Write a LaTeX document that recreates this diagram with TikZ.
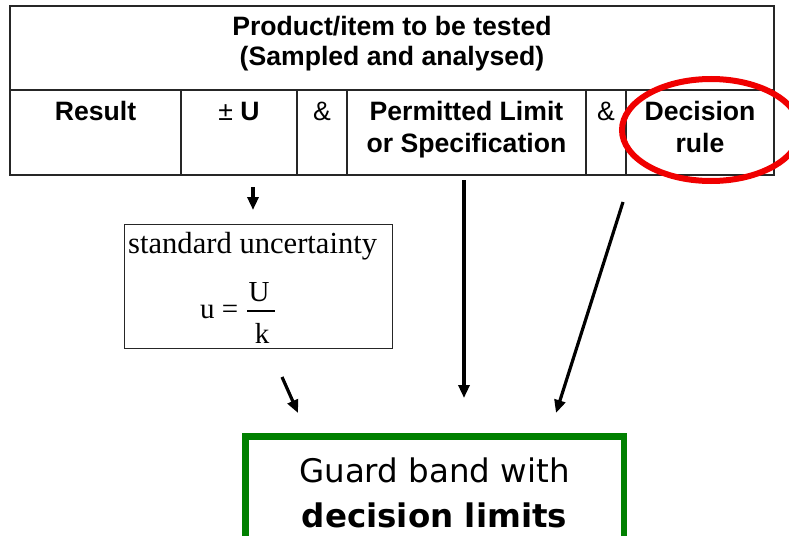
\documentclass[tikz,border=0pt]{standalone}
\usepackage{fontspec}
\setmainfont{Liberation Sans}
\newfontfamily\serifface{Liberation Serif}
\newfontfamily\guardface{DejaVu Sans}
\usetikzlibrary{arrows.meta}
\definecolor{guardgreen}{RGB}{0,128,0}
\definecolor{ringred}{RGB}{240,0,0}

\begin{document}
\begin{tikzpicture}[x=1pt,y=-1pt,
  grid/.style={draw=black!85, line width=1.3pt},
  cell/.style={anchor=base, inner sep=0pt, align=center,
    font=\fontsize{26.6}{32}\selectfont\bfseries},
  amp/.style={anchor=base, inner sep=0pt, font=\fontsize{26.6}{32}\selectfont},
  serif/.style={anchor=base, inner sep=0pt, font=\serifface\fontsize{30.6}{30}\selectfont},
  flow/.style={line width=3.2pt, -{Triangle[length=13pt,width=11pt]}},
]
\clip (0,0) rectangle (789,535);
\fill[white] (0,0) rectangle (789,535);

% --- table: header row and five cells below
\draw[grid] (10,6) rectangle (774,175);
\draw[grid] (10,90) -- (774,90);
\foreach \x in {181,297,347,586,626} \draw[grid] (\x,90) -- (\x,175);

% two-line cells are anchored on the baseline of their last line
\node[cell, font=\fontsize{26.6}{30}\selectfont\bfseries] (item) at (392,66)
  {Product/item to be tested\\(Sampled and analysed)};
\node[cell] (result) at (95.5,120) {Result};
\node[cell] (unc) at (239,120) {{\mdseries ±} U};
\node[amp] (and1) at (322,120) {\&};
\node[cell] (limit) at (466.5,152) {Permitted Limit\\or Specification};
\node[amp] (and2) at (606,120) {\&};
\node[cell] (rule) at (700,152) {Decision\\rule};

% --- red ring around the decision rule
\draw[ringred, line width=6pt] (711,130) ellipse [x radius=89, y radius=51];

% --- standard uncertainty box
\node[draw=black!85, line width=1.1pt, anchor=north west, minimum width=268pt,
  minimum height=124pt, inner sep=0pt] (std) at (124,224) {};
\node[serif, anchor=base west] (stdlabel) at (128,253) {standard uncertainty};
\node[serif, anchor=base west, font=\serifface\fontsize{29}{29}\selectfont] (ueq) at (200,318) {u =};
\node[serif, font=\serifface\fontsize{29}{29}\selectfont] (num) at (259,301) {U};
\node[serif, font=\serifface\fontsize{29}{29}\selectfont] (den) at (262,343) {k};
\draw[line width=1.3pt] (247,311) coordinate (barl) -- (275,311) coordinate (barr);

% --- guard band box
\draw[guardgreen, line width=6.5pt] (245.5,545) -- (245.5,436.5) -- (624,436.5) -- (624,545);
\node[anchor=base, inner sep=0pt, font=\guardface\fontsize{32.5}{32.5}\selectfont] (guard) at (434.5,482)
  {Guard band with};
\node[anchor=base, inner sep=0pt, font=\guardface\fontsize{32.5}{32.5}\selectfont\bfseries] (limits) at (434.5,527)
  {decision limits};

% --- connectors
\coordinate (u0) at (253,187);
\coordinate (u1) at (253,210);
\coordinate (s0) at (282,377);
\coordinate (s1) at (298,413);
\coordinate (p0) at (464,180);
\coordinate (p1) at (464,398);
\coordinate (r0) at (623,202);
\coordinate (r1) at (556,413);
\draw[flow] (u0) -- (u1);
\draw[flow] (s0) -- (s1);
\draw[flow] (p0) -- (p1);
\draw[flow] (r0) -- (r1);
\end{tikzpicture}
\end{document}
